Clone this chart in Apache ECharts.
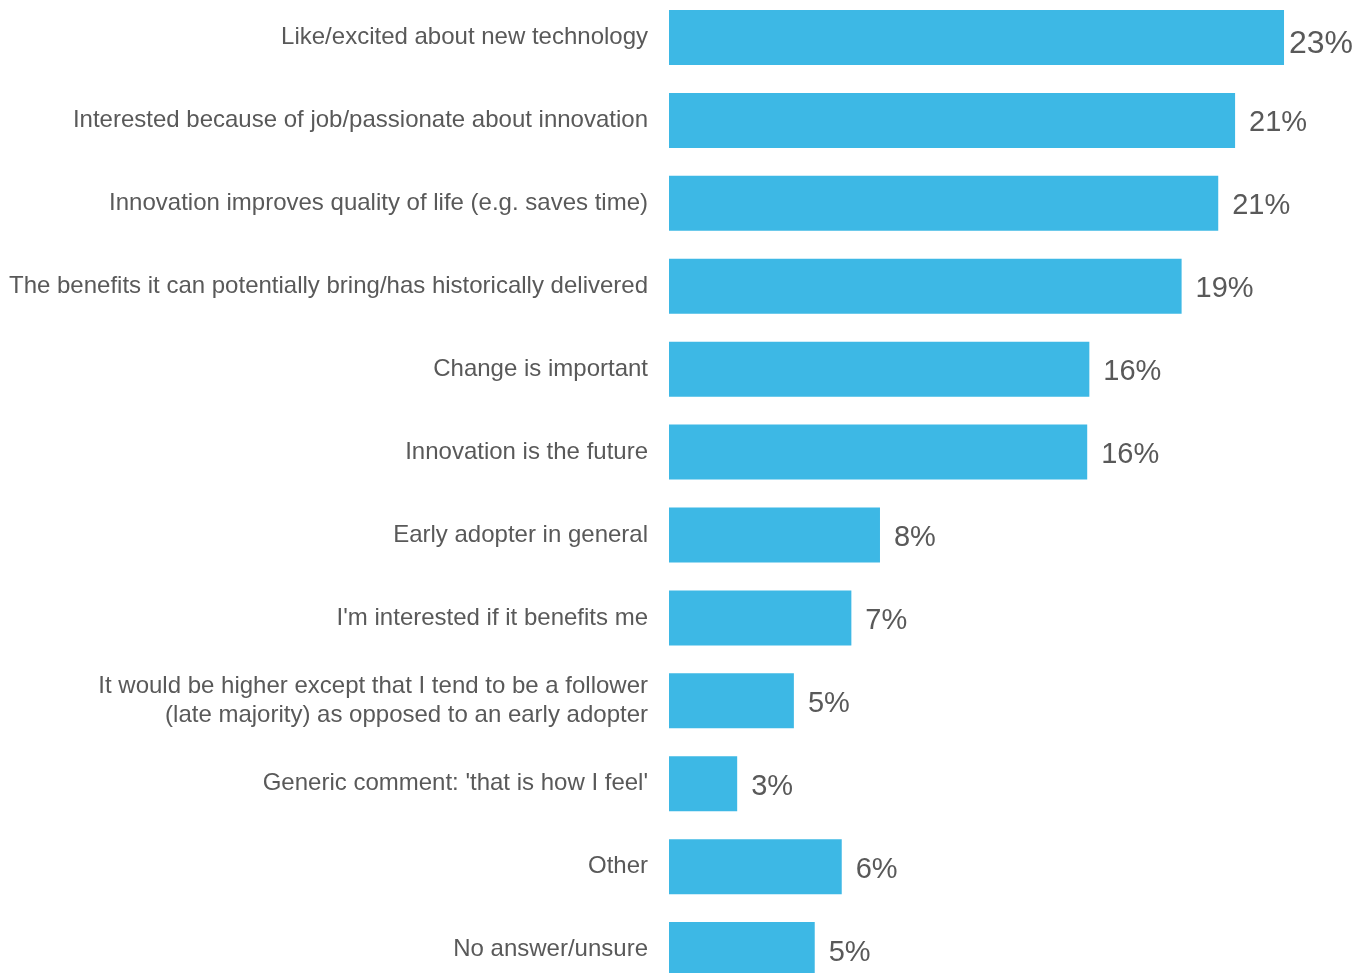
<!DOCTYPE html>
<html>
<head>
<meta charset="utf-8">
<title>Reasons for interest in new technology</title>
<script src="https://cdn.jsdelivr.net/npm/echarts@6/dist/echarts.min.js"></script>
<style>
  html, body { margin: 0; padding: 0; background: #ffffff; }
  #chart { width: 1355px; height: 973px; }
</style>
</head>
<body>
<div id="chart"></div>
<script>
// Reasons given, top to bottom
const categories = [
  'Like/excited about new technology',
  'Interested because of job/passionate about innovation',
  'Innovation improves quality of life (e.g. saves time)',
  'The benefits it can potentially bring/has historically delivered',
  'Change is important',
  'Innovation is the future',
  'Early adopter in general',
  "I'm interested if it benefits me",
  'It would be higher except that I tend to be a follower\n(late majority) as opposed to an early adopter',
  "Generic comment: 'that is how I feel'",
  'Other',
  'No answer/unsure'
];

// Share of respondents (%), labels show the rounded figure
const shares = [23.0, 21.17, 20.54, 19.17, 15.72, 15.64, 7.89, 6.82, 4.67, 2.55, 6.46, 5.45];

const BAR_COLOR = '#3db8e5';
const TEXT_COLOR = '#595959';

const seriesData = shares.map((v, i) => {
  const item = { value: v };
  if (i === 0) {
    // the top label sits tight against the bar so it stays inside the frame
    item.label = { distance: 5, fontSize: 32, offset: [0, 7] };
  }
  return item;
});

const chart = echarts.init(document.getElementById('chart'), null, { renderer: 'canvas' });

chart.setOption({
  animation: false,
  backgroundColor: '#ffffff',
  grid: {
    left: 669, right: 17.5, top: -4, bottom: -18,
    containLabel: false,
    outerBoundsMode: 'none'
  },
  xAxis: {
    type: 'value',
    min: 0,
    max: 25,
    show: false
  },
  yAxis: {
    type: 'category',
    data: categories,
    inverse: true,
    axisLine: { show: false },
    axisTick: { show: false },
    splitLine: { show: false },
    axisLabel: {
      margin: 21,
      color: TEXT_COLOR,
      fontFamily: 'Liberation Sans, Arial, sans-serif',
      fontSize: 24,
      lineHeight: 29,
      align: 'right',
      padding: [4, 0, 0, 0]
    }
  },
  series: [{
    type: 'bar',
    data: seriesData,
    barWidth: 55,
    itemStyle: { color: BAR_COLOR },
    label: {
      show: true,
      position: 'right',
      distance: 14,
      offset: [0, 3],
      color: TEXT_COLOR,
      fontFamily: 'Liberation Sans, Arial, sans-serif',
      fontSize: 29,
      formatter: p => Math.round(p.value) + '%'
    }
  }]
});
</script>
</body>
</html>
